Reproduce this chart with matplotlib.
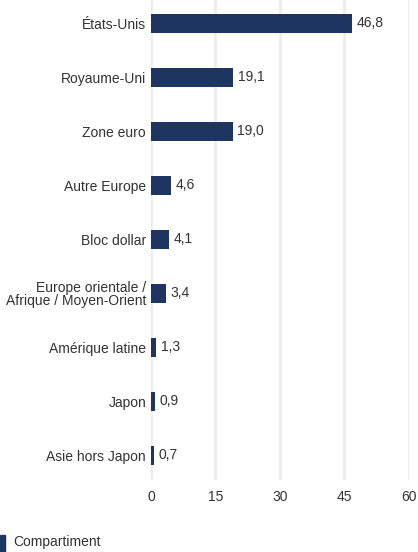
import matplotlib as mpl
mpl.use('Agg')
import matplotlib.pyplot as plt
from matplotlib.patches import Rectangle

regions = ["États-Unis", "Royaume-Uni", "Zone euro", "Autre Europe", "Bloc dollar",
           "Europe orientale /\nAfrique / Moyen-Orient", "Amérique latine", "Japon",
           "Asie hors Japon"]
values = [46.8, 19.1, 19.0, 4.6, 4.1, 3.4, 1.3, 0.9, 0.7]
xticks = [0, 15, 30, 45, 60]
series_name = "Compartiment"

bar_color = '#1d3560'
text_color = '#333333'
plt.rcParams['font.family'] = ['Liberation Sans Narrow', 'Liberation Sans', 'DejaVu Sans']
fs = 10

fig = plt.figure(figsize=(4.18, 5.52), dpi=100)
ax = fig.add_axes([0.361, 0.130, 0.617, 0.870])

pos = list(range(len(regions)))
ax.barh(pos, values, height=0.35, color=bar_color, zorder=3)
for p, v in zip(pos, values):
    ax.annotate(f"{v:.1f}".replace('.', ','), (v, p), xytext=(3.5, 0),
                textcoords='offset points', va='center', ha='left',
                fontsize=fs, color=text_color)

ax.set_ylim(8.46, -0.43)
ax.set_xlim(0, 60)
ax.set_yticks(pos)
ax.set_yticklabels(regions, fontsize=fs, color=text_color, linespacing=0.9)
ax.set_xticks(xticks)
ax.set_xticklabels([str(t) for t in xticks], fontsize=fs, color=text_color)
ax.tick_params(length=0)
ax.tick_params(axis='y', pad=3.5)
ax.tick_params(axis='x', pad=7)
ax.grid(axis='x', color='#ececec', linewidth=2, zorder=0)
for s in ax.spines.values():
    s.set_visible(False)

# legend
fig.patches.append(Rectangle((0.0, 0.0), 0.012, 0.03, transform=fig.transFigure,
                             color=bar_color, figure=fig))
fig.text(0.031, 0.031, series_name, fontsize=fs, color=text_color, va='top', ha='left')

fig.savefig('out.png', dpi=100)
